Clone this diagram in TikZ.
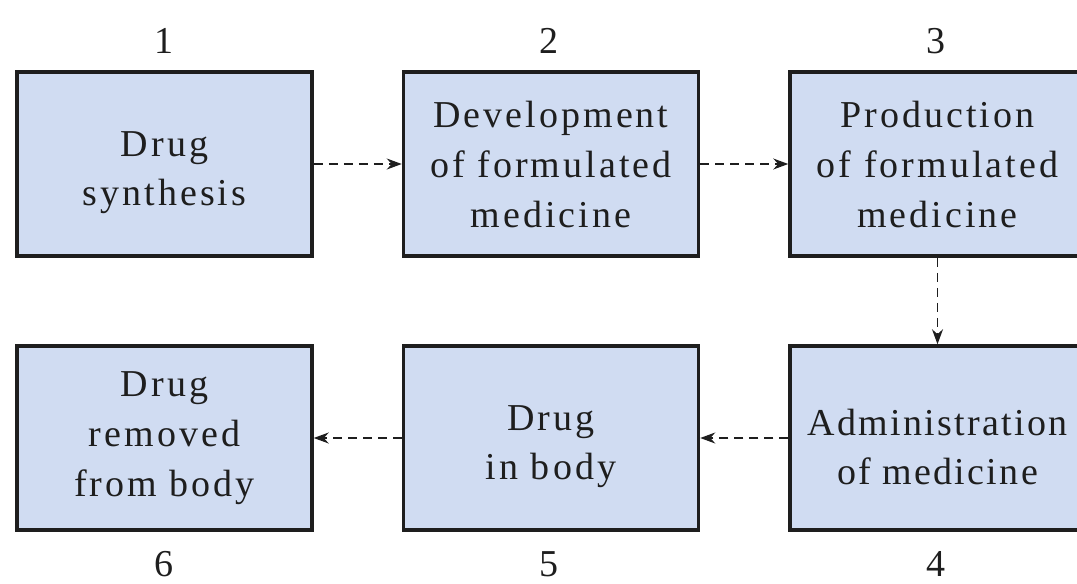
\documentclass[tikz,border=0pt]{standalone}
\usepackage{fontspec}
\setmainfont{Liberation Serif}[LetterSpace=8]
\usetikzlibrary{arrows.meta}
\definecolor{boxfill}{HTML}{D0DCF2}
\definecolor{boxline}{HTML}{1E1E1E}
\begin{document}
\begin{tikzpicture}[x=1pt,y=-1pt,
  stepbox/.style={draw=boxline,line width=3.5pt,fill=boxfill,minimum width=295pt,minimum height=184pt,
    inner sep=0pt,align=center,font=\fontsize{38}{50}\selectfont,text=boxline},
  two/.style={label={[font=\fontsize{38}{49}\selectfont,text=boxline,align=center,yshift=-9pt]center:#1}},
  numlab/.style={font=\fontsize{38}{40}\selectfont,text=boxline,anchor=base,inner sep=0pt},
  conn/.style={draw=boxline,line width=1.2pt,dash pattern=on 9pt off 6pt,-{Stealth[length=15pt,width=11pt]}}]
\useasboundingbox (0,0) rectangle (1077,584);
\clip (0,0) rectangle (1077,584);
\node[stepbox,two={Drug\\synthesis}] (b1) at (164.5,164) {};
\node[stepbox] (b2) at (551,164) {Development\\of formulated\\medicine};
\node[stepbox] (b3) at (937.5,164) {Production\\of formulated\\medicine};
\node[stepbox,two={\addfontfeatures{LetterSpace=6}Administration\\\addfontfeatures{LetterSpace=6}of medicine}] (b4) at (937.5,438) {};
\node[stepbox,two={Drug\\in body}] (b5) at (551,438) {};
\node[stepbox] (b6) at (164.5,438) {Drug\\removed\\from body};
\node[numlab] (n1) at (164,53) {1};
\node[numlab] (n2) at (549,53) {2};
\node[numlab] (n3) at (936,53) {3};
\node[numlab] (n6) at (164,576) {6};
\node[numlab] (n5) at (549,576) {5};
\node[numlab] (n4) at (936,576) {4};
\draw[conn] (b1.east) -- (b2.west);
\draw[conn] (b2.east) -- (b3.west);
\draw[conn] (b3.south) -- (b4.north);
\draw[conn] (b4.west) -- (b5.east);
\draw[conn] (b5.west) -- (b6.east);
\end{tikzpicture}
\end{document}
